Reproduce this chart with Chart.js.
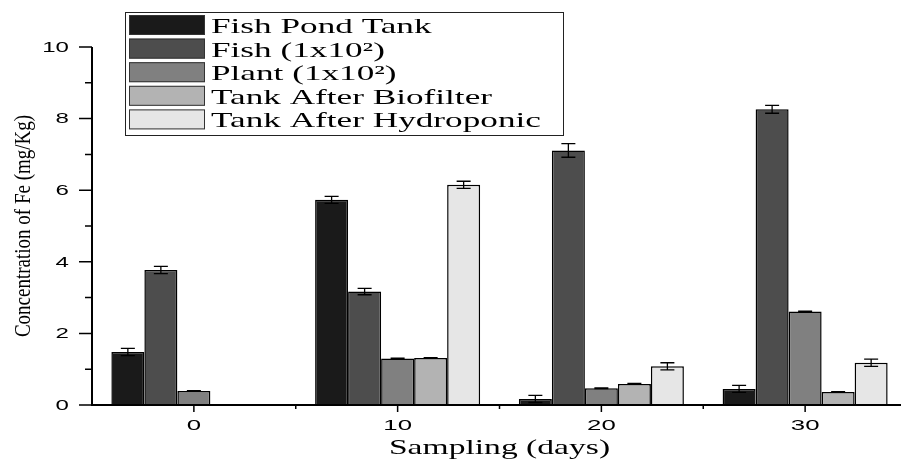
<!DOCTYPE html>
<html>
<head>
<meta charset="utf-8">
<script src="https://cdn.jsdelivr.net/npm/chart.js@4/dist/chart.umd.min.js"></script>
<style>
  html, body { margin: 0; padding: 0; background: #fff; overflow: hidden; }
  #wrap { width: 907px; height: 460px; }
</style>
</head>
<body>
<div id="wrap"><canvas id="c" width="907" height="460"></canvas></div>
<script>
// Sampling days and Fe concentration (mg/Kg) per source
const days = ['0', '10', '20', '30'];
const seriesNames = ['Fish Pond Tank', 'Fish (1x10²)', 'Plant (1x10²)', 'Tank After Biofilter', 'Tank After Hydroponic'];
const seriesColors = ['#1a1a1a', '#4d4d4d', '#808080', '#b3b3b3', '#e6e6e6'];

const fishPondTank = [1.48, 5.73, 0.17, 0.45];
const fish = [3.77, 3.17, 7.11, 8.26];
const plant = [0.39, 1.30, 0.47, 2.61];
const afterBiofilter = [null, 1.31, 0.59, 0.36];
const afterHydroponic = [null, 6.15, 1.08, 1.18];

// standard deviations
const fishPondTankErr = [0.10, 0.10, 0.10, 0.10];
const fishErr = [0.10, 0.09, 0.19, 0.11];
const plantErr = [0.01, 0.01, 0.01, 0.01];
const afterBiofilterErr = [null, 0.01, 0.01, 0.01];
const afterHydroponicErr = [null, 0.10, 0.10, 0.10];

const yTicks = [0, 2, 4, 6, 8, 10];
const yMinorTicks = [1, 3, 5, 7, 9];
const xTitle = 'Sampling (days)';
const yTitle = 'Concentration of Fe (mg/Kg)';

const values = [fishPondTank, fish, plant, afterBiofilter, afterHydroponic];
const errors = [fishPondTankErr, fishErr, plantErr, afterBiofilterErr, afterHydroponicErr];

// text in this figure is drawn horizontally widened
const STRETCH = 1.72;

function stretchedText(ctx, text, x, y, font, align, baseline, k) {
  ctx.save();
  ctx.font = font;
  ctx.fillStyle = '#000';
  ctx.textAlign = align;
  ctx.textBaseline = baseline;
  ctx.translate(x, y);
  ctx.scale(k, 1);
  ctx.fillText(text, 0, 0);
  ctx.restore();
}

const errorBars = {
  id: 'errorBars',
  afterDatasetsDraw(chart) {
    const ctx = chart.ctx;
    const y = chart.scales.y;
    ctx.save();
    ctx.strokeStyle = '#000';
    ctx.lineWidth = 1.3;
    chart.data.datasets.forEach((ds, di) => {
      const meta = chart.getDatasetMeta(di);
      meta.data.forEach((bar, i) => {
        const v = ds.data[i];
        const e = ds.errors[i];
        if (v == null || e == null) return;
        const cx = bar.x;
        const top = y.getPixelForValue(v + e);
        const bot = y.getPixelForValue(v - e);
        const hw = 7;
        ctx.beginPath();
        ctx.moveTo(cx, top); ctx.lineTo(cx, bot);
        ctx.moveTo(cx - hw, top); ctx.lineTo(cx + hw, top);
        ctx.moveTo(cx - hw, bot); ctx.lineTo(cx + hw, bot);
        ctx.stroke();
      });
    });
    ctx.restore();
  }
};

const axesAndLegend = {
  id: 'axesAndLegend',
  afterDraw(chart) {
    const ctx = chart.ctx;
    const xs = chart.scales.x;
    const ys = chart.scales.y;
    const area = chart.chartArea;
    ctx.save();
    ctx.strokeStyle = '#000';
    ctx.lineWidth = 2;

    // axis lines
    ctx.beginPath();
    ctx.moveTo(area.left, ys.getPixelForValue(10));
    ctx.lineTo(area.left, area.bottom + 1);
    ctx.moveTo(area.left - 1, area.bottom);
    ctx.lineTo(area.right, area.bottom);
    ctx.stroke();

    // y ticks
    ctx.lineWidth = 1.5;
    ctx.beginPath();
    yTicks.forEach(t => {
      const py = ys.getPixelForValue(t);
      ctx.moveTo(area.left - 13, py); ctx.lineTo(area.left, py);
    });
    yMinorTicks.forEach(t => {
      const py = ys.getPixelForValue(t);
      ctx.moveTo(area.left - 7, py); ctx.lineTo(area.left, py);
    });
    // x ticks: major at categories, minor between them
    days.forEach((d, i) => {
      const px = xs.getPixelForValue(i);
      ctx.moveTo(px, area.bottom); ctx.lineTo(px, area.bottom + 7);
      if (i < days.length - 1) {
        const mx = xs.getPixelForValue(i + 0.5);
        ctx.moveTo(mx, area.bottom); ctx.lineTo(mx, area.bottom + 4);
      }
    });
    ctx.stroke();

    // tick labels
    yTicks.forEach(t => {
      stretchedText(ctx, String(t), area.left - 23, ys.getPixelForValue(t) + 1,
        '14px "Liberation Sans"', 'right', 'middle', STRETCH);
    });
    days.forEach((d, i) => {
      stretchedText(ctx, d, xs.getPixelForValue(i), area.bottom + 13,
        '15px "Liberation Sans"', 'center', 'top', STRETCH);
    });

    // axis titles
    stretchedText(ctx, xTitle, (area.left + area.right) / 2, 454,
      '21px "Liberation Serif"', 'center', 'alphabetic', 1.6);
    ctx.save();
    ctx.translate(30, (area.top + area.bottom) / 2);
    ctx.scale(1.2, 1);
    ctx.rotate(-Math.PI / 2);
    ctx.font = '19px "Liberation Serif"';
    ctx.fillStyle = '#000';
    ctx.textAlign = 'center';
    ctx.textBaseline = 'alphabetic';
    ctx.fillText(yTitle, 0, 0);
    ctx.restore();

    // legend
    const lx = 125, ly = 12, lw = 438, lh = 123;
    ctx.fillStyle = '#fff';
    ctx.fillRect(lx, ly, lw, lh);
    ctx.lineWidth = 1;
    ctx.strokeStyle = '#222';
    ctx.strokeRect(lx + 0.5, ly + 0.5, lw, lh);
    const rowH = 23.6;
    chart.data.datasets.forEach((ds, i) => {
      const ry = ly + 3 + i * rowH;
      ctx.fillStyle = ds.backgroundColor;
      ctx.fillRect(129, ry, 76, 20);
      ctx.strokeStyle = '#333';
      ctx.lineWidth = 1;
      ctx.strokeRect(129.5, ry + 0.5, 75, 19);
      stretchedText(ctx, ds.label, 211, ry + 18, '22px "Liberation Serif"', 'left', 'alphabetic', 1.6);
    });
    ctx.restore();
  }
};

new Chart(document.getElementById('c'), {
  type: 'bar',
  data: {
    labels: days,
    datasets: seriesNames.map((name, i) => ({
      label: name,
      data: values[i],
      errors: errors[i],
      backgroundColor: seriesColors[i],
      borderColor: '#000',
      borderWidth: 1.5,
      borderSkipped: 'bottom',
      categoryPercentage: 0.81,
      barPercentage: 1.0
    }))
  },
  options: {
    responsive: false,
    animation: false,
    devicePixelRatio: 1,
    layout: { padding: { left: 92, top: 47, right: 0, bottom: 55 } },
    plugins: { legend: { display: false }, tooltip: { enabled: false } },
    scales: {
      x: { display: false, offset: true },
      y: { display: false, min: 0, max: 10 }
    }
  },
  plugins: [errorBars, axesAndLegend]
});
</script>
</body>
</html>
